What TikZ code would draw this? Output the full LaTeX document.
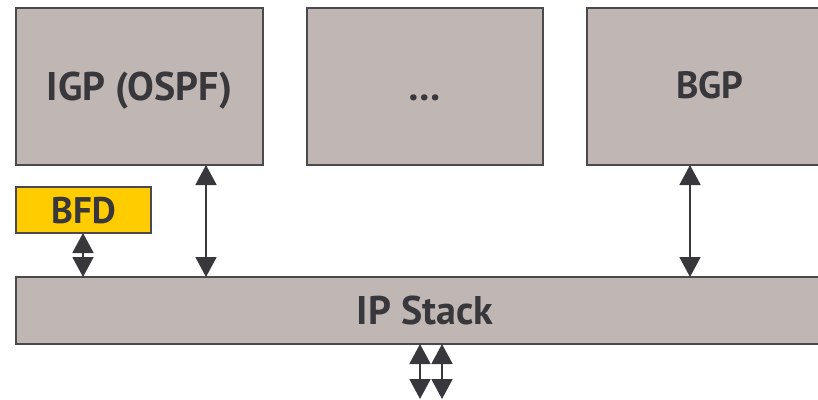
\documentclass[tikz,border=0pt]{standalone}
\usepackage{fontspec}
\setmainfont{PT Sans}
\usetikzlibrary{arrows.meta}
\definecolor{boxfill}{HTML}{C0B7B4}
\definecolor{boxline}{HTML}{4A4A4E}
\definecolor{bfdfill}{HTML}{FFCC00}
\definecolor{ink}{HTML}{38383C}
\tikzset{
  layer/.style={draw=boxline, line width=1.5pt, fill=boxfill, inner sep=0pt},
  label/.style={text=ink, anchor=base, inner sep=0pt, font=\bfseries\fontsize{40}{40}\selectfont},
  link/.style={draw=ink, line width=1.8pt,
    {Triangle[width=21pt,length=20pt]}-{Triangle[width=21pt,length=20pt]}},
}
\begin{document}
\begin{tikzpicture}[x=1pt,y=-1pt]
  \useasboundingbox (0,0) rectangle (818,399);
  % protocol boxes
  \draw[layer] (16,8) rectangle (263,165);
  \draw[layer] (307,8) rectangle (543,165);
  \draw[layer] (587,8) rectangle (830,165);
  \draw[layer, fill=bfdfill] (16,187) rectangle (151,233);
  \draw[layer] (16,277) rectangle (830,344);
  \node[label] (igp) at (139.5,100) {IGP (OSPF)};
  \node[label] (dots) at (424.5,100) {…};
  \node[label, font=\bfseries\fontsize{38}{38}\selectfont] (bgp) at (710,98) {BGP};
  \node[label, font=\bfseries\fontsize{37}{37}\selectfont] (bfd) at (83.5,223) {BFD};
  \node[label] (ip) at (425,324) {IP Stack};
  % anchor points of the links
  \coordinate (bfdB) at (83,233);
  \coordinate (ipA) at (83,277);
  \coordinate (igpB) at (206,165);
  \coordinate (ipB) at (206,277);
  \coordinate (bgpB) at (690,165);
  \coordinate (ipC) at (690,277);
  \coordinate (ipD) at (420,344);
  \coordinate (outD) at (420,399);
  \coordinate (ipE) at (442,344);
  \coordinate (outE) at (442,399);
  \draw[link] (bfdB) -- (ipA);
  \draw[link] (igpB) -- (ipB);
  \draw[link] (bgpB) -- (ipC);
  \draw[link] (ipD) -- (outD);
  \draw[link] (ipE) -- (outE);
\end{tikzpicture}
\end{document}
